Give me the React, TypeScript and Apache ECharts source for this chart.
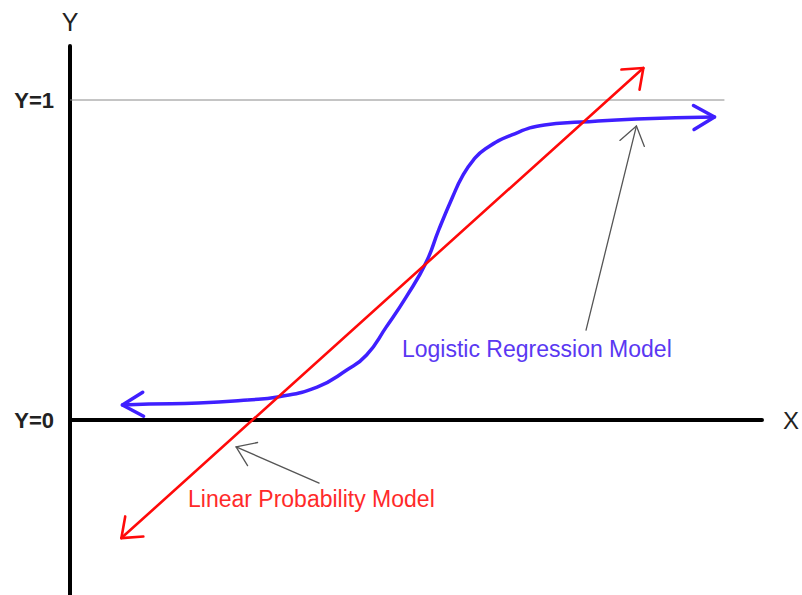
import React, { useEffect, useRef } from "react";
import * as echarts from "echarts";

// Logistic regression curve (x in axis units, y probability)
const logisticX = [0.53, 0.8, 1.3, 1.8, 2.1, 2.5, 2.8, 3.0, 3.2, 3.4, 3.6, 3.73, 3.87, 3.97, 4.08, 4.2, 4.47, 4.8, 5.17, 5.73, 6.52];
const logisticY = [0.047, 0.05, 0.053, 0.0625, 0.072, 0.103, 0.156, 0.203, 0.291, 0.384, 0.491, 0.594, 0.697, 0.762, 0.812, 0.847, 0.891, 0.922, 0.931, 0.941, 0.947];
// Linear probability model (straight line endpoints)
const linearX = [0.52, 5.8];
const linearY = [-0.369, 1.1];
// Reference line at Y=1
const refLineX = [0, 6.62];
const refLineY = 1;
// Y tick labels
const yTickValues = [0, 1];
const yTickLabels = ["Y=0", "Y=1"];
// Annotation arrows: [fromX, fromY] -> [toX, toY]
const logisticNoteFrom = [5.22, 0.281];
const logisticNoteTo = [5.73, 0.919];
const linearNoteFrom = [2.52, -0.197];
const linearNoteTo = [1.68, -0.084];
const logisticLabel = "Logistic Regression Model";
const linearLabel = "Linear Probability Model";

const FONT = "'Liberation Sans', Arial, sans-serif";
const RED = "#ff0a0a";
const BLUE = "#3f1fff";

function arrowSeries(
  data: number[][],
  color: string,
  width: number,
  len: number,
  halfAngleDeg: number,
  shaft: boolean,
  z: number
) {
  return {
    type: "custom",
    coordinateSystem: "cartesian2d",
    data,
    encode: { x: 0, y: 1 },
    silent: true,
    clip: false,
    z,
    renderItem: (_params: any, api: any) => {
      const tip = api.coord([api.value(0), api.value(1)]);
      const from = api.coord([api.value(2), api.value(3)]);
      const ang = Math.atan2(from[1] - tip[1], from[0] - tip[0]);
      const h = (halfAngleDeg * Math.PI) / 180;
      const a = [tip[0] + len * Math.cos(ang + h), tip[1] + len * Math.sin(ang + h)];
      const b = [tip[0] + len * Math.cos(ang - h), tip[1] + len * Math.sin(ang - h)];
      const style = { stroke: color, lineWidth: width, fill: null, lineCap: "round", lineJoin: "round" };
      const children: any[] = [
        { type: "polyline", shape: { points: [a, tip, b] }, style },
      ];
      if (shaft) {
        children.push({ type: "line", shape: { x1: from[0], y1: from[1], x2: tip[0], y2: tip[1] }, style });
      }
      return { type: "group", children };
    },
  };
}

export default function App() {
  const ref = useRef<HTMLDivElement>(null);
  useEffect(() => {
    if (!ref.current) return;
    const chart = echarts.init(ref.current, undefined, { renderer: "svg" });
    const logisticData = logisticX.map((x, i) => [x, logisticY[i]]);
    const linearData = linearX.map((x, i) => [x, linearY[i]]);
    const refData = refLineX.map((x) => [x, refLineY]);
    const nL = logisticData.length;
    const nR = linearData.length;

    chart.setOption({
      animation: false,
      backgroundColor: "#ffffff",
      grid: { left: 70, right: 32, top: 46, bottom: 0, containLabel: false },
      xAxis: {
        type: "value",
        min: 0,
        max: 7,
        axisLine: { show: true, onZero: true, lineStyle: { color: "#000", width: 4, cap: "round" } },
        axisTick: { show: false },
        axisLabel: { show: false },
        splitLine: { show: false },
        name: "X",
        nameLocation: "end",
        nameGap: 21,
        nameTextStyle: { fontSize: 24, color: "#222", fontFamily: FONT, verticalAlign: "middle" },
      },
      yAxis: {
        type: "value",
        min: -0.546875,
        max: 1.16875,
        axisLine: { show: true, onZero: false, lineStyle: { color: "#000", width: 4 } },
        axisTick: { show: false },
        splitLine: { show: false },
        axisLabel: {
          show: true,
          customValues: yTickValues,
          formatter: (v: number) => {
            const i = yTickValues.findIndex((t) => Math.abs(t - v) < 1e-9);
            return i >= 0 ? yTickLabels[i] : "";
          },
          fontSize: 22,
          fontWeight: "bold",
          color: "#222",
          fontFamily: FONT,
          margin: 16,
        },
        name: "Y",
        nameLocation: "end",
        nameGap: 12,
        nameTextStyle: { fontSize: 25, color: "#222", fontFamily: FONT, align: "center" },
      },
      series: [
        {
          type: "line",
          data: refData,
          showSymbol: false,
          silent: true,
          lineStyle: { color: "#8a8a8a", width: 1 },
          z: 1,
        },
        {
          type: "line",
          data: logisticData,
          showSymbol: false,
          smooth: 0.5,
          silent: true,
          lineStyle: { color: BLUE, width: 3.5, cap: "round" },
          z: 3,
        },
        {
          type: "line",
          data: linearData,
          showSymbol: false,
          silent: true,
          lineStyle: { color: RED, width: 2.6, cap: "round" },
          z: 4,
        },
        arrowSeries(
          [
            [linearData[nR - 1][0], linearData[nR - 1][1], linearData[0][0], linearData[0][1]],
            [linearData[0][0], linearData[0][1], linearData[nR - 1][0], linearData[nR - 1][1]],
          ],
          RED, 2.6, 22, 38, false, 4
        ),
        arrowSeries(
          [
            [logisticData[nL - 1][0], logisticData[nL - 1][1], logisticData[nL - 2][0], logisticData[nL - 2][1]],
            [logisticData[0][0], logisticData[0][1], logisticData[1][0], logisticData[1][1]],
          ],
          BLUE, 3.5, 24, 30, false, 3
        ),
        arrowSeries(
          [
            [logisticNoteTo[0], logisticNoteTo[1], logisticNoteFrom[0], logisticNoteFrom[1]],
            [linearNoteTo[0], linearNoteTo[1], linearNoteFrom[0], linearNoteFrom[1]],
          ],
          "#555555", 1.3, 22, 35, true, 2
        ),
      ],
      graphic: [
        {
          type: "text",
          x: 402,
          y: 349,
          style: { text: logisticLabel, fill: "#5a38f2", fontSize: 23, fontFamily: FONT, verticalAlign: "middle" },
        },
        {
          type: "text",
          x: 188,
          y: 499,
          style: { text: linearLabel, fill: "#ff2a2a", fontSize: 23, fontFamily: FONT, verticalAlign: "middle" },
        },
      ],
    });
    return () => chart.dispose();
  }, []);
  return (
    <div
      ref={ref}
      style={{ position: "absolute", left: 0, top: 0, width: 802, height: 595, background: "#fff" }}
    />
  );
}
